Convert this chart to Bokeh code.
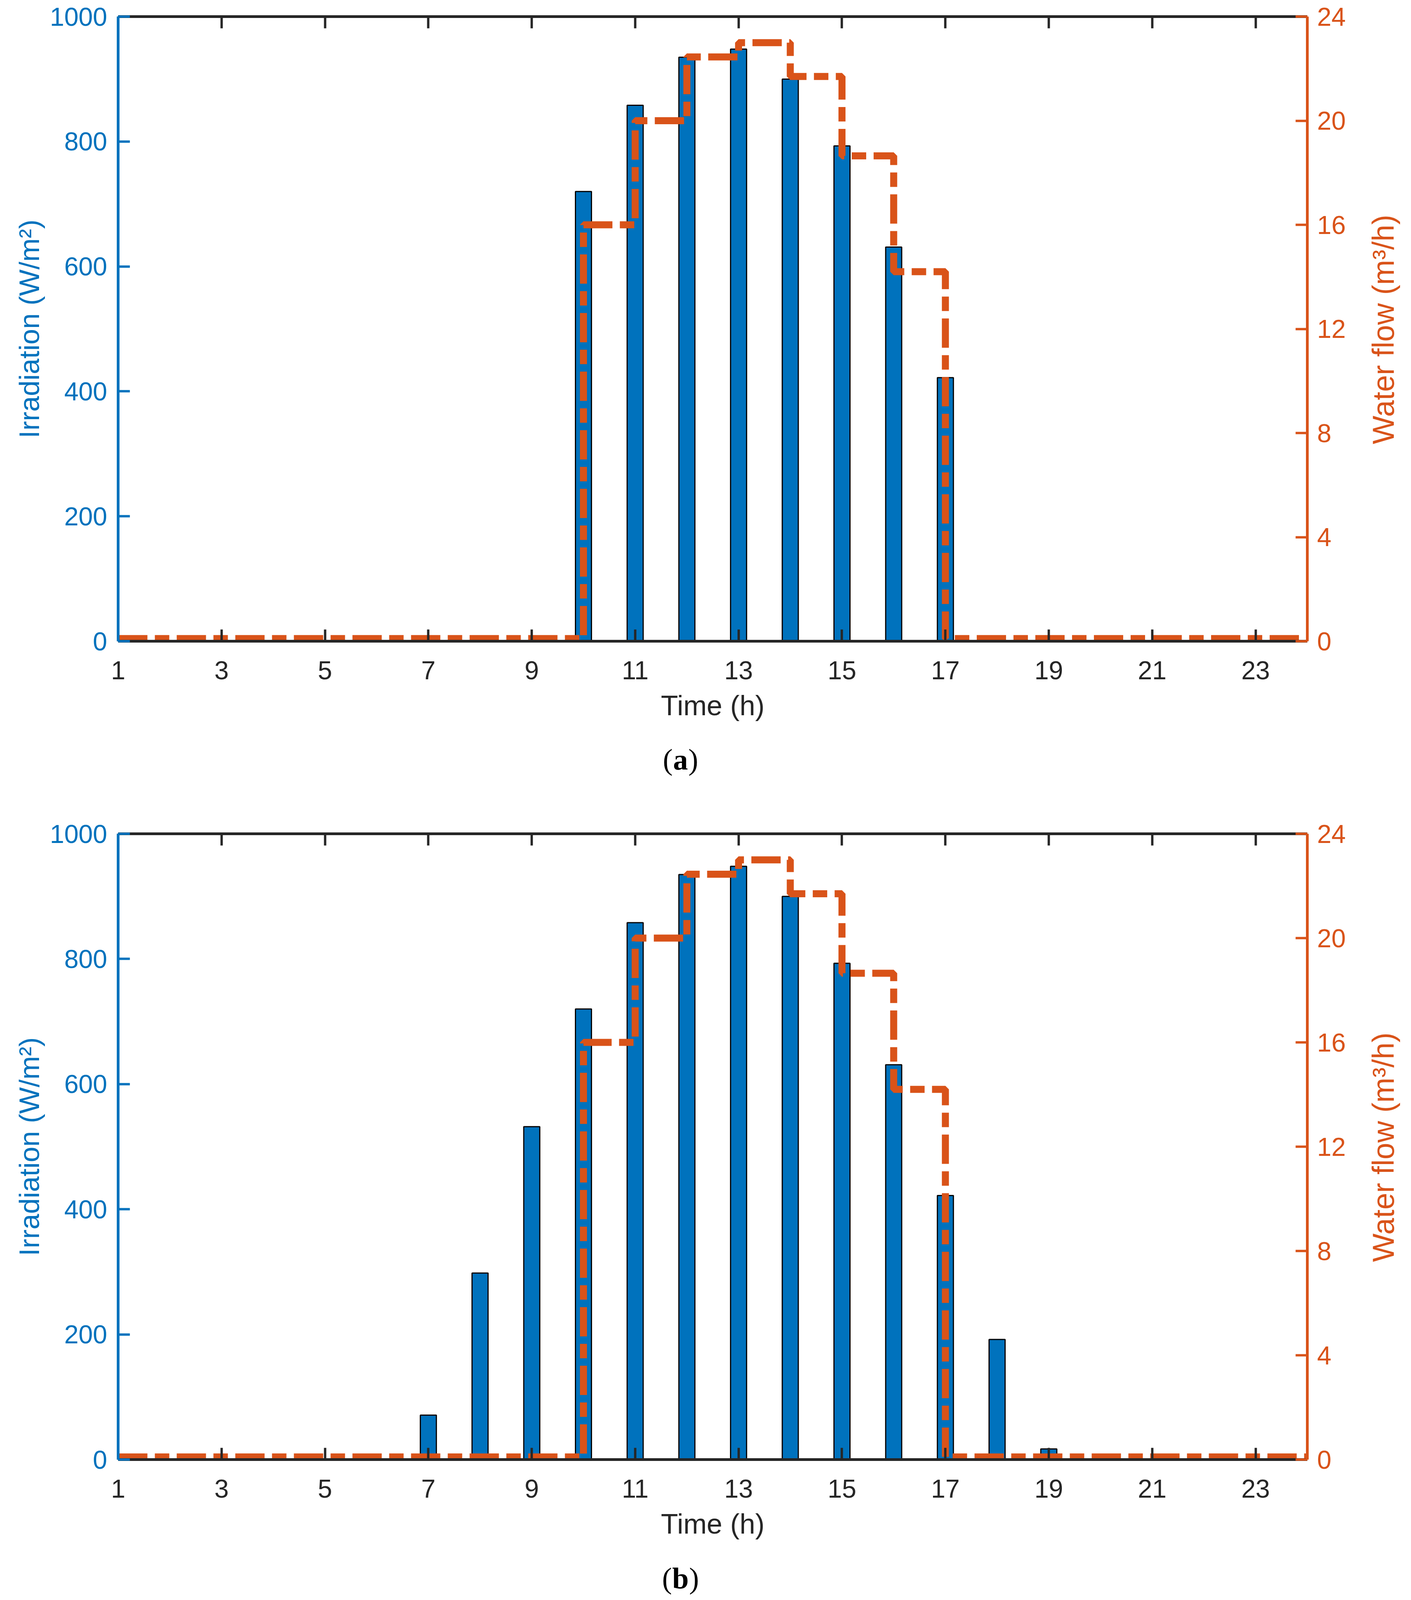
import math
from bokeh.plotting import figure
from bokeh.models import Range1d, LinearAxis, FixedTicker, CustomJSTickFormatter
from bokeh.layouts import column, row
from bokeh.embed import file_html
from bokeh.resources import INLINE
from bokeh.core.properties import value

# ---------------- data ----------------
hours = [1, 2, 3, 4, 5, 6, 7, 8, 9, 10, 11, 12, 13, 14, 15, 16, 17, 18, 19, 20, 21, 22, 23, 24]
irradiation_a = [0, 0, 0, 0, 0, 0, 0, 0, 0, 720, 858, 935, 948, 900, 793, 631, 422, 0, 0, 0, 0, 0, 0, 0]
irradiation_b = [0, 0, 0, 0, 0, 0, 71, 298, 532, 720, 858, 935, 948, 900, 793, 631, 422, 192, 17, 0, 0, 0, 0, 0]
water_flow = [0.1, 0.1, 0.1, 0.1, 0.1, 0.1, 0.1, 0.1, 0.1, 16, 20, 22.45, 23, 21.7, 18.65, 14.2,
              0.1, 0.1, 0.1, 0.1, 0.1, 0.1, 0.1, 0.1]
x_ticks = [1, 3, 5, 7, 9, 11, 13, 15, 17, 19, 21, 23]
irr_ticks = [0, 200, 400, 600, 800, 1000]
flow_ticks = [0, 4, 8, 12, 16, 20, 24]
captions = ["a", "b"]
x_label = "Time (h)"
irr_label = "Irradiation (W/m²)"
flow_label = "Water flow (m³/h)"

BLUE = "#0072BD"
ORANGE = "#D95319"
DARK = "#262626"
SANS = "Liberation Sans"
SERIF = "Liberation Serif"

W = 3597
LEFT = 302
FRAME_W = 3045
RIGHT = 135
LABEL_W = W - LEFT - FRAME_W - RIGHT
TOP = 42


def style_axis(ax, color, ticks, font_size="66px", standoff=28):
    ax.ticker = FixedTicker(ticks=ticks)
    ax.axis_line_color = color
    ax.axis_line_width = 7
    ax.major_tick_line_color = color
    ax.major_tick_line_width = 6
    ax.major_tick_in = 30
    ax.major_tick_out = 0
    ax.minor_tick_line_color = None
    ax.major_label_text_color = color
    ax.major_label_text_font = SANS
    ax.major_label_text_font_size = font_size
    ax.major_label_standoff = standoff
    ax.axis_label_text_color = color
    ax.axis_label_text_font = SANS
    ax.axis_label_text_font_size = "72px"
    ax.axis_label_text_font_style = "normal"


def blank(width, height):
    f = figure(width=width, height=height, x_range=Range1d(0, width), y_range=Range1d(0, height),
               output_backend="svg", toolbar_location=None,
               x_axis_location=None, y_axis_location=None,
               min_border=0, min_border_left=0, min_border_right=0,
               min_border_top=0, min_border_bottom=0)
    f.xgrid.visible = False
    f.ygrid.visible = False
    f.outline_line_color = None
    f.background_fill_color = "white"
    f.border_fill_color = "white"
    return f


def make_panel(irr, height, frame_h):
    p = figure(width=LEFT + FRAME_W + RIGHT, height=height, x_range=Range1d(1, 24),
               y_range=Range1d(0, 1000),
               output_backend="svg", toolbar_location=None,
               min_border_left=LEFT, min_border_right=RIGHT, min_border_top=TOP,
               min_border_bottom=height - TOP - frame_h)
    p.extra_y_ranges = {"flow": Range1d(0, 24)}
    p.xgrid.visible = False
    p.ygrid.visible = False
    p.outline_line_color = None
    p.background_fill_color = "white"
    p.border_fill_color = "white"

    p.vbar(x=hours, top=irr, width=0.31, bottom=0, fill_color=BLUE,
           line_color="black", line_width=3)
    p.step(x=hours, y=water_flow, mode="after", y_range_name="flow",
           line_color=ORANGE, line_width=18, line_dash="75 19 37 19")

    la = p.yaxis[0]
    style_axis(la, BLUE, irr_ticks, standoff=28)
    la.axis_label = irr_label
    la.axis_label_standoff = 10

    ba = p.xaxis[0]
    style_axis(ba, DARK, x_ticks, standoff=51)
    ba.axis_label = x_label
    ba.axis_label_standoff = 24

    ra = LinearAxis(y_range_name="flow")
    style_axis(ra, ORANGE, flow_ticks, standoff=25)
    p.add_layout(ra, "right")

    ta = LinearAxis(formatter=CustomJSTickFormatter(code="return ''"))
    style_axis(ta, DARK, x_ticks, font_size="0px", standoff=0)
    p.add_layout(ta, "above")
    return p


def side_label(height, center_from_top):
    f = blank(LABEL_W, height)
    f.text(x=[59], y=[height - center_from_top], text=[flow_label], angle=math.pi / 2,
           text_align="center", text_baseline="middle", text_color=ORANGE,
           text_font=value(SANS), text_font_size="77px")
    return f


def caption(letter, height, baseline_from_top, half):
    f = blank(W, height)
    cx = 1742
    y = height - baseline_from_top
    f.text(x=[cx - half], y=[y], text=["("], text_align="right", text_baseline="alphabetic",
           text_font=value(SERIF), text_font_size="76px", text_color="black")
    f.text(x=[cx], y=[y], text=[letter], text_align="center", text_baseline="alphabetic",
           text_font=value(SERIF), text_font_size="76px", text_font_style="bold",
           text_color="black")
    f.text(x=[cx + half], y=[y], text=[")"], text_align="left", text_baseline="alphabetic",
           text_font=value(SERIF), text_font_size="76px", text_color="black")
    return f


H1, H2 = 1880, 1883
p1 = make_panel(irradiation_a, H1, 1599)
r1 = side_label(H1, 42 + 1599 / 2 + 100)
c1 = caption(captions[0], 212, 63, 20)
p2 = make_panel(irradiation_b, H2, 1602)
r2 = side_label(H2, 42 + 1602 / 2 + 100)
c2 = caption(captions[1], 119, 64, 22)

layout = column(row(p1, r1, spacing=0), c1, row(p2, r2, spacing=0), c2, spacing=0)

open("out.html", "w").write(file_html(layout, INLINE))
